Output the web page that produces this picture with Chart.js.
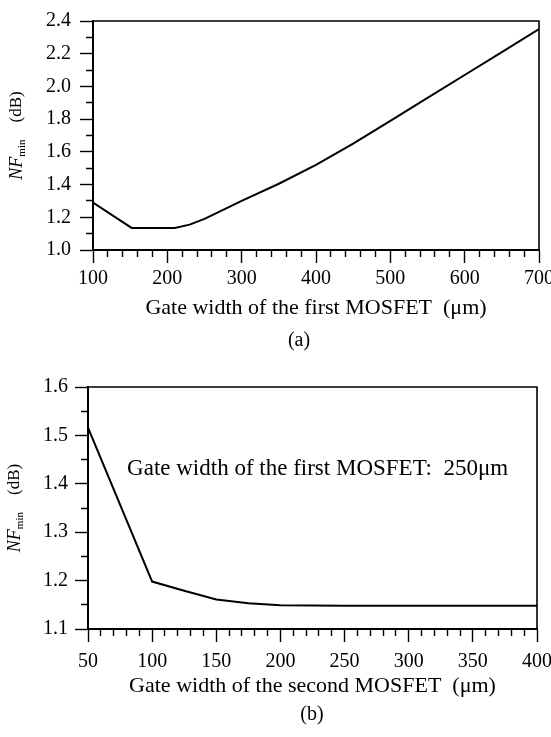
<!DOCTYPE html>
<html>
<head>
<meta charset="utf-8">
<script src="https://cdn.jsdelivr.net/npm/chart.js@4.4.1/dist/chart.umd.min.js"></script>
<style>
  html, body { margin: 0; padding: 0; background: #fff; }
  body { width: 551px; height: 737px; position: relative; overflow: hidden; }
  .box { position: absolute; left: 0; width: 551px; }
  #boxA { top: 0; height: 360px; }
  #boxB { top: 360px; height: 377px; }
  .cap { position: absolute; font: 20px "Liberation Serif", "Times New Roman", serif; line-height: 22px; transform: translateX(-50%); color: #000; }
</style>
</head>
<body>
<div class="box" id="boxA"><canvas id="chartA"></canvas></div>
<div class="box" id="boxB"><canvas id="chartB"></canvas></div>
<div class="cap" style="left:299px; top:328px;">(a)</div>
<div class="cap" style="left:312px; top:702px;">(b)</div>
<script>
// (a) NFmin against gate width of the first MOSFET
const widthA = [100, 152, 180, 210, 230, 250, 275, 300, 350, 400, 450, 500, 550, 600, 650, 700];
const nfA = [1.29, 1.135, 1.134, 1.135, 1.155, 1.19, 1.245, 1.30, 1.405, 1.52, 1.65, 1.79, 1.93, 2.07, 2.21, 2.35];
const xRangeA = [100, 700];
const yRangeA = [1.0, 2.4];
const xStepsA = [100, 20];   // major, minor
const yStepsA = [0.2, 0.1];

// (b) NFmin against gate width of the second MOSFET
const widthB = [50, 100, 125, 150, 175, 200, 250, 300, 350, 400];
const nfB = [1.516, 1.198, 1.179, 1.161, 1.153, 1.149, 1.148, 1.148, 1.148, 1.148];
const xRangeB = [50, 400];
const yRangeB = [1.1, 1.6];
const xStepsB = [50, 10];
const yStepsB = [0.1, 0.05];

const titleA = 'Gate width of the first MOSFET  (\u03bcm)';
const titleB = 'Gate width of the second MOSFET  (\u03bcm)';
const noteB = 'Gate width of the first MOSFET:  250\u03bcm';

const SERIF = '"Liberation Serif", "Times New Roman", serif';

const isMajor = (v, step) => Math.abs(v / step - Math.round(v / step)) < 1e-6;

// closes the plot box on the top and right sides
const frame = {
  id: 'frame',
  afterDatasetsDraw(chart) {
    const { ctx, chartArea: a } = chart;
    ctx.save();
    ctx.strokeStyle = '#000';
    ctx.lineWidth = 1.6;
    ctx.beginPath();
    ctx.moveTo(a.left, a.top);
    ctx.lineTo(a.right, a.top);
    ctx.lineTo(a.right, a.bottom);
    ctx.stroke();
    ctx.restore();
  },
};

// rotated "NF_min (dB)" with a real subscript
const yTitle = {
  id: 'yTitle',
  afterDraw(chart, args, opts) {
    const { ctx, chartArea: a } = chart;
    const parts = [
      { t: 'NF', font: `italic 18px ${SERIF}`, dy: 0 },
      { t: 'min', font: `11px ${SERIF}`, dy: 5 },
      { t: '    (dB)', font: `17px ${SERIF}`, dy: 0 },
    ];
    ctx.save();
    let total = 0;
    parts.forEach((p) => { ctx.font = p.font; p.w = ctx.measureText(p.t).width; total += p.w; });
    ctx.translate(opts.x, (a.top + a.bottom) / 2);
    ctx.rotate(-Math.PI / 2);
    ctx.fillStyle = '#000';
    ctx.textBaseline = 'middle';
    let cx = -total / 2;
    parts.forEach((p) => { ctx.font = p.font; ctx.fillText(p.t, cx, p.dy); cx += p.w; });
    ctx.restore();
  },
};

// free text inside the plot, placed in data coordinates
const note = {
  id: 'note',
  afterDatasetsDraw(chart, args, opts) {
    if (!opts.text) return;
    const { ctx, scales } = chart;
    ctx.save();
    ctx.font = `23px ${SERIF}`;
    ctx.fillStyle = '#000';
    ctx.textAlign = 'center';
    ctx.textBaseline = 'middle';
    ctx.fillText(opts.text, scales.x.getPixelForValue(opts.at[0]), scales.y.getPixelForValue(opts.at[1]));
    ctx.restore();
  },
};

function makeChart(id, cfg) {
  // minor ticks are drawn shorter: the x tick runs from the axis outwards, the y tick towards the axis
  const xDash = (c) => (c.tick && !isMajor(c.tick.value, cfg.xSteps[0]) ? [6, 100] : []);
  const yDash = (c) => (c.tick && !isMajor(c.tick.value, cfg.ySteps[0]) ? [0, 6, 7, 100] : []);
  return new Chart(document.getElementById(id), {
    type: 'line',
    data: {
      datasets: [{
        data: cfg.xs.map((x, i) => ({ x, y: cfg.ys[i] })),
        borderColor: '#000',
        borderWidth: 2,
        pointRadius: 0,
        tension: 0,
        fill: false,
      }],
    },
    options: {
      responsive: true,
      maintainAspectRatio: false,
      animation: false,
      events: [],
      layout: { padding: { top: cfg.padTop, right: cfg.padRight, left: 0, bottom: 0 } },
      plugins: {
        legend: { display: false },
        tooltip: { enabled: false },
        yTitle: { x: cfg.yTitleX },
        note: { text: cfg.note, at: cfg.noteAt },
      },
      scales: {
        x: {
          type: 'linear',
          min: cfg.xRange[0],
          max: cfg.xRange[1],
          afterFit(s) { s.height = cfg.xHeight; s.paddingLeft = 0; s.paddingRight = 0; },
          grid: { drawOnChartArea: false, tickLength: 13, tickColor: '#000', tickWidth: 1.4, tickBorderDash: xDash },
          border: { color: '#000', width: 2 },
          ticks: {
            stepSize: cfg.xSteps[1],
            maxRotation: 0,
            autoSkip: false,
            padding: cfg.xPad,
            color: '#000',
            font: { family: SERIF, size: 20 },
            callback: (v) => (isMajor(v, cfg.xSteps[0]) ? String(Math.round(v)) : ''),
          },
          title: {
            display: true,
            text: cfg.xTitle,
            color: '#000',
            font: { family: SERIF, size: 22, lineHeight: 1.2 },
            padding: { top: 0, bottom: cfg.titleBottom },
          },
        },
        y: {
          type: 'linear',
          min: cfg.yRange[0],
          max: cfg.yRange[1],
          afterFit(s) { s.width = cfg.yWidth; },
          grid: { drawOnChartArea: false, tickLength: 13, tickColor: '#000', tickWidth: 1.4, tickBorderDash: yDash },
          border: { color: '#000', width: 2 },
          ticks: {
            stepSize: cfg.ySteps[1],
            autoSkip: false,
            padding: cfg.yPad,
            color: '#000',
            font: { family: SERIF, size: 20 },
            callback: (v) => (isMajor(v, cfg.ySteps[0]) ? v.toFixed(1) : ''),
          },
        },
      },
    },
    plugins: [frame, yTitle, note],
  });
}

makeChart('chartA', {
  xs: widthA, ys: nfA, xRange: xRangeA, yRange: yRangeA, xSteps: xStepsA, ySteps: yStepsA,
  xTitle: titleA, padTop: 13, padRight: 12, xHeight: 110, yWidth: 93,
  xPad: 4, yPad: 9, titleBottom: 39, yTitleX: 17,
});

makeChart('chartB', {
  xs: widthB, ys: nfB, xRange: xRangeB, yRange: yRangeB, xSteps: xStepsB, ySteps: yStepsB,
  xTitle: titleB, padTop: 27, padRight: 14, xHeight: 108, yWidth: 88,
  xPad: 8, yPad: 7, titleBottom: 38, yTitleX: 15,
  note: noteB, noteAt: [229, 1.43],
});
</script>
</body>
</html>
